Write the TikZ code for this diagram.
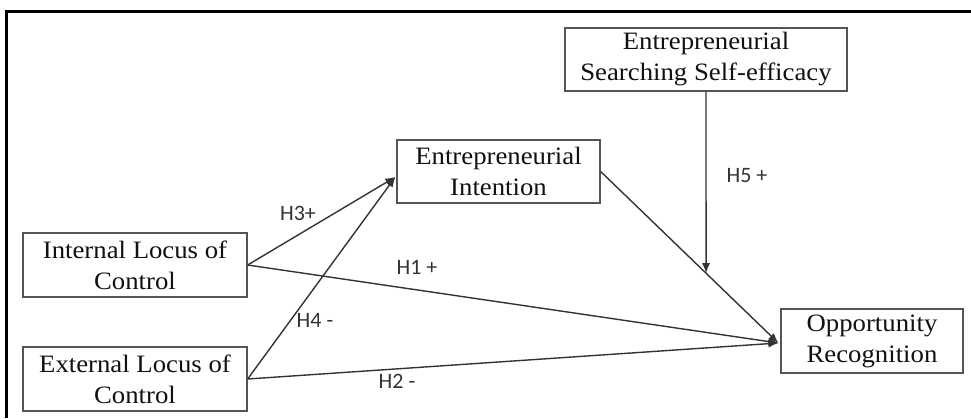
\documentclass[tikz,border=0pt]{standalone}
\usepackage{fontspec}
\setmainfont[FakeStretch=1.07]{Liberation Serif}
\newfontfamily\labelfont{Carlito}
\usetikzlibrary{arrows.meta,calc}
\definecolor{linecol}{HTML}{333333}
\definecolor{boxcol}{HTML}{555555}
\definecolor{textcol}{HTML}{111111}
\tikzset{
  var/.style={draw=boxcol, line width=1.3pt, rectangle, inner sep=0pt, align=center,
    text=textcol, font=\fontsize{25}{31}\selectfont},
  hyp/.style={text=linecol, font=\labelfont\fontsize{22}{24}\selectfont, inner sep=0pt},
  link/.style={draw=linecol, line width=1.4pt, -{Latex[length=10pt,width=8pt]}},
  frameline/.style={line width=3pt, black}
}
\begin{document}
\begin{tikzpicture}[x=1pt,y=1pt]
\useasboundingbox (0,0) rectangle (971,-418);
\draw[frameline] (6,-418) -- (6,-11.5) -- (971,-11.5);

\node[var, minimum width=224pt, minimum height=64pt] (int) at (135,-265) {Internal Locus of\\Control};
\node[var, minimum width=224pt, minimum height=64pt] (ext) at (135,-379) {External Locus of\\Control};
\node[var, minimum width=203pt, minimum height=63pt] (ei) at (498.5,-171.5) {Entrepreneurial\\Intention};
\node[var, minimum width=182pt, minimum height=64pt] (or) at (872,-341) {Opportunity\\Recognition};
\node[var, minimum width=282pt, minimum height=63pt] (esse) at (706,-59.5) {Entrepreneurial\\Searching Self-efficacy};

\coordinate (eiin) at ($(ei.west)+(-1,-5.5)$);
\coordinate (orin) at ($(or.west)+(-2,-2)$);

\draw[link] (int.east) -- (eiin);
\draw[link] (ext.east) -- (eiin);
\draw[link] (int.east) -- (orin);
\draw[link] (ext.east) -- (orin);
\draw[link] (ei.east) -- (orin);
\coordinate (mod) at (intersection of esse.south--{$(esse.south)+(0,-400)$} and ei.east--orin);
\draw[link] (esse.south) -- (mod);

\node[hyp] (h3) at (298,-213) {H3+};
\node[hyp] (h1) at (417,-267) {H1 +};
\node[hyp] (h4) at (315,-320) {H4 -};
\node[hyp] (h2) at (397,-381) {H2 -};
\node[hyp] (h5) at (747,-176) {H5 +};
\end{tikzpicture}
\end{document}
